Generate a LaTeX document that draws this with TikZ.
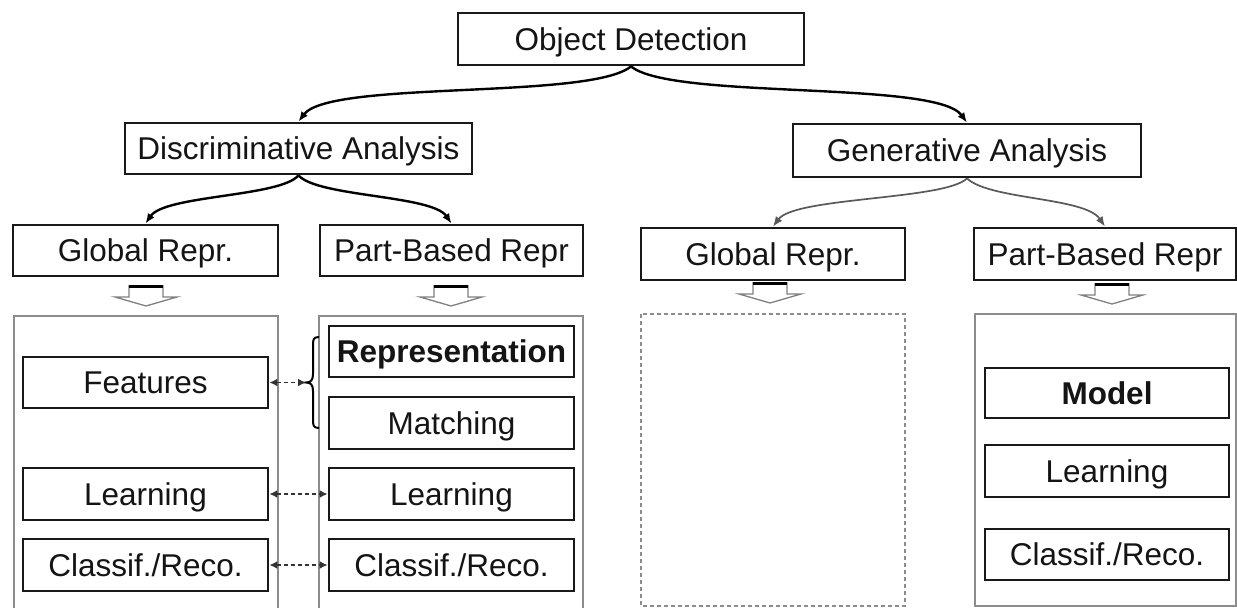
\documentclass[tikz,border=0pt]{standalone}
\usepackage{fontspec}
\setmainfont{Liberation Sans}
\usetikzlibrary{arrows.meta}
\begin{document}
\begin{tikzpicture}[x=1pt,y=-1pt,
  box/.style={draw=black!90, line width=2.8pt, fill=white, inner sep=0pt, minimum height=51pt,
    text height=22.6pt, text depth=0pt,
    font=\fontsize{31.5}{36}\selectfont, text=black!92},
  bbox/.style={box, font=\fontsize{31.5}{36}\selectfont\bfseries},
  cont/.style={draw=black!45, line width=1.4pt},
  curve/.style={line width=2.4pt, -{Latex[length=10pt,width=8pt]}},
  gcurve/.style={line width=1.7pt, draw=black!65, -{Latex[length=10pt,width=8pt]}},
  link/.style={line width=1.8pt, draw=black!80, dash pattern=on 4pt off 3pt,
    {Latex[length=8pt,width=8pt]}-{Latex[length=8pt,width=8pt]}},
  hollowarrow/.pic={
    \draw[draw=black!50, line width=1.3pt, fill=white] (-17,0) -- (-17,12) -- (-31,12) -- (0,21) -- (31,12) -- (17,12) -- (17,0);
    \draw[line width=2.8pt] (-17,1.2) -- (17,1.2);
  }]
\useasboundingbox (0,0) rectangle (1237,608);
\fill[white] (0,0) rectangle (1237,608);

% top levels
\node[box, minimum width=346pt, minimum height=52pt] (od) at (631,39) {Object Detection};
\node[box, minimum width=347pt] (da) at (298.5,148.5) {Discriminative Analysis};
\node[box, minimum width=348pt, minimum height=53pt] (ga) at (967,150.5) {Generative Analysis};

\node[box, minimum width=265pt] (gr1) at (145.5,250.5) {Global Repr.};
\node[box, minimum width=263pt] (pr1) at (451.5,250.5) {Part-Based Repr};
\node[box, minimum width=264pt, minimum height=52pt] (gr2) at (773,254) {Global Repr.};
\node[box, minimum width=262pt, minimum height=52pt] (pr2) at (1105,254) {Part-Based Repr};

% curved connectors
\draw[curve] (od.south) .. controls (590,100) and (330,80) .. (da.north);
\draw[curve] (od.south) .. controls (672,100) and (936,80) .. (ga.north);
\draw[curve] (da.south) .. controls (280,197) and (165,195) .. (gr1.north);
\draw[curve] (da.south) .. controls (318,197) and (432,195) .. (pr1.north);
\draw[gcurve] (ga.south) .. controls (945,200) and (795,197) .. (gr2.north);
\draw[gcurve] (ga.south) .. controls (990,200) and (1085,197) .. (pr2.north);

% hollow arrows
\pic at (146,285) {hollowarrow};
\pic at (451,285) {hollowarrow};
\pic at (770,282) {hollowarrow};
\pic at (1112,283) {hollowarrow};

% containers
\draw[cont] (14,608) -- (14,316) -- (278,316) -- (278,608);
\draw[cont] (319,608) -- (319,316) -- (583,316) -- (583,608);
\draw[cont, dash pattern=on 4pt off 3pt] (641,314) rectangle (905,606);
\draw[cont] (975,314) rectangle (1236,606);

% inner boxes
\node[box, minimum width=245pt] (f1) at (145.5,382.5) {Features};
\node[box, minimum width=245pt, minimum height=52pt] (l1) at (145.5,494) {Learning};
\node[box, minimum width=245pt, minimum height=52pt] (k1) at (145.5,565) {Classif./Reco.};

\node[bbox, minimum width=245pt] (rep) at (451.5,351.5) {Representation};
\node[box, minimum width=245pt, minimum height=52pt] (mat) at (451.5,423) {Matching};
\node[box, minimum width=245pt, minimum height=52pt] (l2) at (451.5,494) {Learning};
\node[box, minimum width=245pt, minimum height=52pt] (k2) at (451.5,565) {Classif./Reco.};

\node[bbox, minimum width=244pt, minimum height=50pt] (mod) at (1107,393) {Model};
\node[box, minimum width=244pt, minimum height=52pt] (l3) at (1107,471) {Learning};
\node[box, minimum width=244pt, minimum height=51pt] (k3) at (1107,554.5) {Classif./Reco.};

% brace
\coordinate (bt) at (306,382.5);
\draw[line width=2pt] (319,337) .. controls (313,337) and (313,340) .. (313,346) -- (313,374)
  .. controls (313,380) and (311,382.5) .. (bt)
  .. controls (311,382.5) and (313,385) .. (313,391) -- (313,419)
  .. controls (313,425) and (313,428) .. (319,428);

% dashed links
\draw[link] (f1.east) -- (bt);
\draw[link] (l1.east) -- (l2.west);
\draw[link] (k1.east) -- (k2.west);
\end{tikzpicture}
\end{document}
